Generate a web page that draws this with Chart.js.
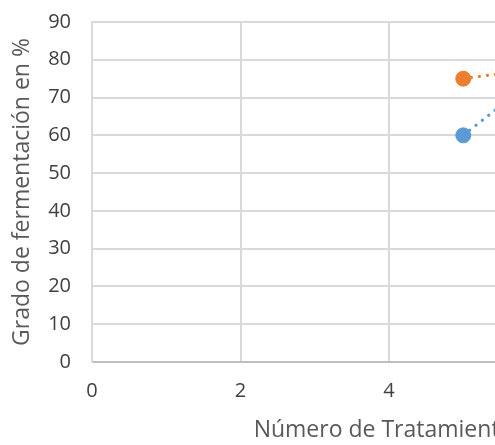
<!DOCTYPE html>
<html>
<head>
<meta charset="utf-8">
<script src="https://cdn.jsdelivr.net/npm/chart.js@4/dist/chart.umd.min.js"></script>
<style>
  html, body { margin: 0; padding: 0; background: #fff; overflow: hidden; }
  .wrap { width: 495px; height: 445px; overflow: hidden; }
  .chartBox { width: 700px; height: 445px; }
</style>
</head>
<body>
<div class="wrap">
  <div class="chartBox"><canvas id="fermentacion"></canvas></div>
</div>
<script>
// data
const serieAzul = [{x: 5, y: 60}];
const serieNaranja = [{x: 5, y: 75}];
// visible part of the dotted trend lines
const tendAzul = [{x: 5, y: 60}, {x: 5.45, y: 67}];
const tendNaranja = [{x: 5, y: 75}, {x: 5.45, y: 76.2}];
const yTicks = [0, 10, 20, 30, 40, 50, 60, 70, 80, 90];
const xTicks = [0, 2, 4, 6, 8];

const AZUL = '#5B9BD5';
const NARANJA = '#ED7D31';
const FONT = "'Open Sans', sans-serif";

const trend = (data, color) => ({
  type: 'line', data, borderColor: color, borderWidth: 3.2,
  borderDash: [0.1, 8], borderCapStyle: 'round',
  pointRadius: 0, fill: false, order: 2
});
const points = (data, color) => ({
  type: 'scatter', data, backgroundColor: color, borderColor: color,
  pointRadius: 7.5, pointHoverRadius: 7.5, order: 1
});

new Chart(document.getElementById('fermentacion'), {
  type: 'scatter',
  data: {
    datasets: [
      points(serieAzul, AZUL),
      points(serieNaranja, NARANJA),
      trend(tendAzul, AZUL),
      trend(tendNaranja, NARANJA)
    ]
  },
  options: {
    responsive: true,
    maintainAspectRatio: false,
    animation: false,
    layout: { padding: { top: 22, right: 14, left: 0, bottom: 0 } },
    plugins: { legend: { display: false }, tooltip: { enabled: false } },
    scales: {
      x: {
        type: 'linear', min: 0, max: 8,
        afterBuildTicks: s => { s.ticks = xTicks.map(v => ({value: v})); },
        afterFit: s => { s.height = 83; s.paddingLeft = 0; s.paddingRight = 0; },
        grid: { color: '#D9D9D9', lineWidth: 2, drawTicks: false },
        border: { color: '#BFBFBF', width: 2 },
        ticks: { color: '#404040', font: { family: FONT, size: 20 }, padding: 17 },
        title: { display: true, text: 'Número de Tratamientos', color: '#595959',
                 font: { family: FONT, size: 23 }, padding: { top: 12, bottom: 1 } }
      },
      y: {
        type: 'linear', min: 0, max: 90,
        afterBuildTicks: s => { s.ticks = yTicks.map(v => ({value: v})); },
        afterFit: s => { s.width = 92; s.paddingTop = 0; s.paddingBottom = 0; },
        grid: { color: '#D9D9D9', lineWidth: 2, drawTicks: false },
        border: { color: '#D9D9D9', width: 2 },
        ticks: { color: '#404040', font: { family: FONT, size: 20 }, padding: 21 },
        title: { display: true, text: 'Grado de fermentación en %', color: '#595959',
                 font: { family: FONT, size: 23 }, padding: { top: 9, bottom: 0 } }
      }
    }
  }
});
</script>
</body>
</html>
